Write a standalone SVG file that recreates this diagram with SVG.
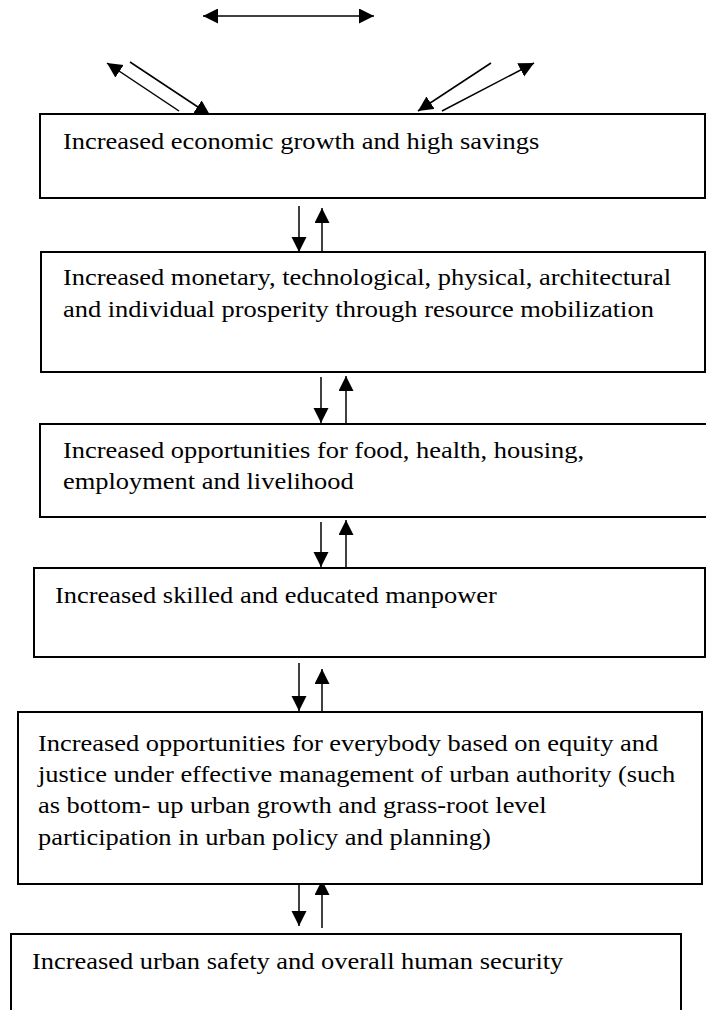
<svg xmlns="http://www.w3.org/2000/svg" width="706" height="1010" viewBox="0 0 706 1010">
  <style>
    .box { fill: #ffffff; stroke: #000000; stroke-width: 2; }
    .lbl { font-family: "Liberation Serif", "Times New Roman", serif; font-size: 23px; fill: #000000; }
    .con { stroke: #000000; stroke-width: 1.5; fill: none; marker-end: url(#head); }
    .dbl { marker-start: url(#headStart); }
  </style>
  <defs>
    <marker id="head" markerUnits="userSpaceOnUse" markerWidth="16" markerHeight="16" refX="15" refY="7.5" orient="auto">
      <path d="M0,0 L15,7.5 L0,15 Z" fill="#000000"/>
    </marker>
    <marker id="headStart" markerUnits="userSpaceOnUse" markerWidth="16" markerHeight="16" refX="0" refY="7.5" orient="auto">
      <path d="M15,0 L0,7.5 L15,15 Z" fill="#000000"/>
    </marker>
  </defs>

  <rect width="706" height="1010" fill="#ffffff"/>

  <!-- connectors -->
  <g id="connectors">
    <line class="con dbl" x1="203" y1="16" x2="374" y2="16"/>
    <line class="con" x1="179" y1="111" x2="107" y2="63"/>
    <line class="con" x1="130" y1="62" x2="210" y2="115"/>
    <line class="con" x1="491" y1="63" x2="418" y2="111"/>
    <line class="con" x1="442" y1="111" x2="534" y2="63"/>

    <line class="con" x1="299" y1="206" x2="299" y2="252"/>
    <line class="con" x1="322" y1="255" x2="322" y2="208"/>

    <line class="con" x1="321" y1="377" x2="321" y2="423"/>
    <line class="con" x1="346" y1="424" x2="346" y2="376"/>

    <line class="con" x1="321" y1="522" x2="321" y2="567"/>
    <line class="con" x1="346" y1="568" x2="346" y2="520"/>

    <line class="con" x1="299" y1="663" x2="299" y2="711"/>
    <line class="con" x1="322" y1="712" x2="322" y2="669"/>

    <line class="con" x1="299" y1="878" x2="299" y2="926"/>
    <line class="con" x1="322" y1="928" x2="322" y2="880"/>
  </g>

  <g id="node-growth">
    <rect class="box" x="40" y="114" width="665" height="84"/>
    <text class="lbl" transform="translate(63 149) scale(1.15 1)">Increased economic growth and high savings</text>
  </g>

  <g id="node-prosperity">
    <rect class="box" x="41" y="252" width="664" height="120"/>
    <text class="lbl" transform="translate(63 285) scale(1.15 1)">Increased monetary, technological, physical, architectural</text>
    <text class="lbl" transform="translate(63 317) scale(1.15 1)">and individual prosperity through resource mobilization</text>
  </g>

  <g id="node-opportunities">
    <rect class="box" x="40" y="424" width="670" height="93"/>
    <text class="lbl" transform="translate(63 458) scale(1.15 1)">Increased opportunities for food, health, housing,</text>
    <text class="lbl" transform="translate(63 489) scale(1.15 1)">employment and livelihood</text>
  </g>

  <g id="node-manpower">
    <rect class="box" x="34" y="568" width="671" height="89"/>
    <text class="lbl" transform="translate(55 603) scale(1.15 1)">Increased skilled and educated manpower</text>
  </g>

  <g id="node-equity">
    <rect class="box" x="18" y="712" width="684" height="172"/>
    <text class="lbl" transform="translate(38 751) scale(1.15 1)">Increased opportunities for everybody based on equity and</text>
    <text class="lbl" transform="translate(38 782) scale(1.15 1)">justice under effective management of urban authority (such</text>
    <text class="lbl" transform="translate(38 813) scale(1.15 1)">as bottom- up urban growth and grass-root level</text>
    <text class="lbl" transform="translate(38 845) scale(1.15 1)">participation in urban policy and planning)</text>
  </g>

  <g id="node-security">
    <rect class="box" x="11" y="934" width="670" height="100"/>
    <text class="lbl" transform="translate(32 969) scale(1.15 1)">Increased urban safety and overall human security</text>
  </g>
</svg>
